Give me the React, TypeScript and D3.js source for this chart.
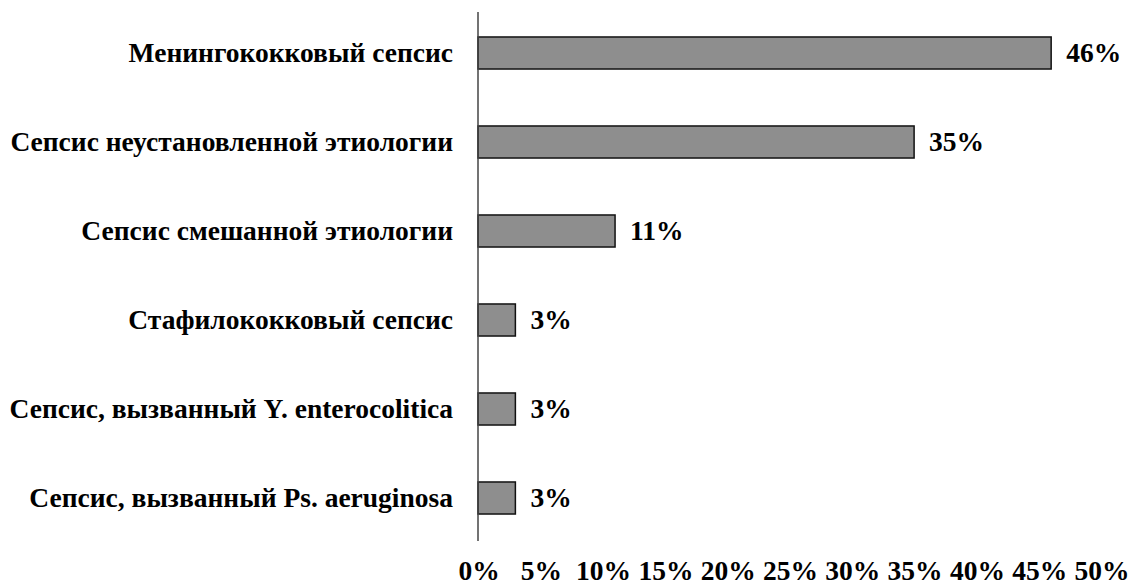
import { useEffect, useRef } from 'react';
import * as d3 from 'd3';

const categories = [
  'Менингококковый сепсис',
  'Сепсис неустановленной этиологии',
  'Сепсис смешанной этиологии',
  'Стафилококковый сепсис',
  'Сепсис, вызванный Y. enterocolitica',
  'Сепсис, вызванный Ps. aeruginosa',
];
const values = [46, 35, 11, 3, 3, 3];
const xTicks = [0, 5, 10, 15, 20, 25, 30, 35, 40, 45, 50];

export default function App() {
  const svgRef = useRef<SVGSVGElement>(null);
  const width = 1131;
  const height = 585;

  useEffect(() => {
    if (!svgRef.current) return;
    const svg = d3.select(svgRef.current);
    svg.selectAll('*').remove();

    const font = '"Liberation Serif", "Times New Roman", serif';
    const fontSize = '27.5px';
    const left = 478;

    const x = d3.scaleLinear().domain([0, 50]).range([left, left + 623]);
    const y = d3.scaleBand<string>()
      .domain(categories)
      .range([8.5, 542.5])
      .paddingInner(0.64)
      .paddingOuter(0.32);

    // bars
    svg.selectAll('.bar')
      .data(values)
      .enter().append('rect')
      .attr('class', 'bar')
      .attr('x', x(0))
      .attr('y', (d, i) => y(categories[i])!)
      .attr('width', d => x(d) - x(0))
      .attr('height', y.bandwidth())
      .attr('fill', '#8e8e8e')
      .attr('stroke', '#111')
      .attr('stroke-width', 1.5);

    // vertical axis line
    svg.append('line')
      .attr('x1', x(0)).attr('x2', x(0))
      .attr('y1', 12).attr('y2', 541)
      .attr('stroke', '#444')
      .attr('stroke-width', 1.5);

    // category labels
    svg.selectAll('.cat')
      .data(categories)
      .enter().append('text')
      .attr('class', 'cat')
      .attr('x', x(0) - 25)
      .attr('y', d => y(d)! + y.bandwidth() / 2)
      .attr('dy', '0.33em')
      .attr('text-anchor', 'end')
      .style('font-family', font)
      .style('font-weight', 'bold')
      .style('font-size', fontSize)
      .text(d => d);

    // value labels
    svg.selectAll('.val')
      .data(values)
      .enter().append('text')
      .attr('class', 'val')
      .attr('x', d => x(d) + 15)
      .attr('y', (d, i) => y(categories[i])! + y.bandwidth() / 2)
      .attr('dy', '0.33em')
      .style('font-family', font)
      .style('font-weight', 'bold')
      .style('font-size', fontSize)
      .text(d => `${d}%`);

    // x tick labels
    svg.selectAll('.tick')
      .data(xTicks)
      .enter().append('text')
      .attr('class', 'tick')
      .attr('x', d => x(d) + 1)
      .attr('y', 580)
      .attr('text-anchor', 'middle')
      .style('font-family', font)
      .style('font-weight', 'bold')
      .style('font-size', fontSize)
      .text(d => `${d}%`);
  }, []);

  return (
    <svg
      ref={svgRef}
      width={width}
      height={height}
      style={{ position: 'absolute', left: 0, top: 0, background: '#fff' }}
    />
  );
}
